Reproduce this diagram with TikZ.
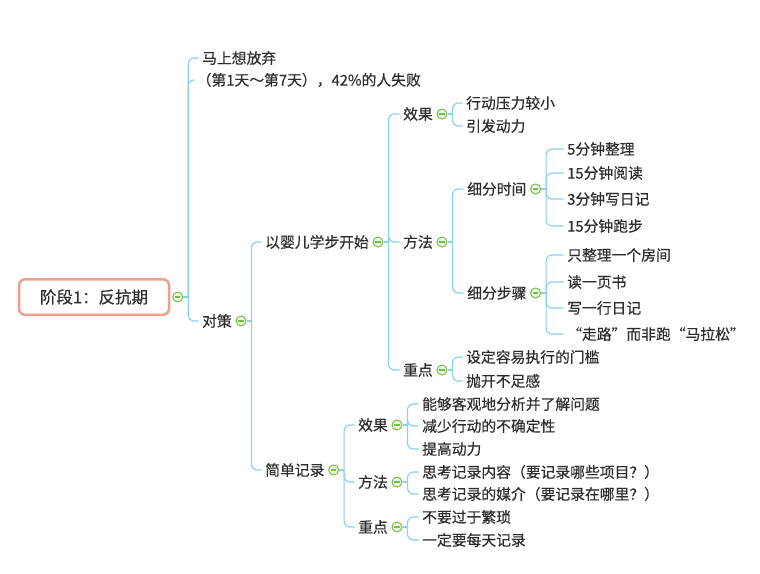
\documentclass[tikz,border=0pt]{standalone}
\usepackage{fontspec}
\setmainfont{Noto Sans CJK SC}[FakeBold=0.4]
\usetikzlibrary{positioning}

\definecolor{linkblue}{RGB}{138,208,245}
\definecolor{foldgreen}{RGB}{118,190,72}
\definecolor{foldfill}{RGB}{236,246,226}
\definecolor{rootedge}{RGB}{240,160,138}
\definecolor{txtgray}{RGB}{45,45,45}

% full-width quotes
\newcommand{\qopen}{\makebox[1em][r]{“}}
\newcommand{\qclose}{\makebox[1em][l]{”}}

\tikzset{
  topic/.style={anchor=west, inner xsep=3.5pt, inner ysep=2pt, text=txtgray,
    font=\fontsize{14.8}{17}\selectfont},
  root/.style={draw=rootedge, line width=2.5pt, rounded corners=6pt, fill=white,
    minimum width=150pt, minimum height=35.5pt, text=txtgray,
    font=\fontsize{16.5}{19}\selectfont},
  fold/.style={circle, draw=foldgreen, fill=foldfill, line width=1pt,
    minimum size=10pt, inner sep=0pt,
    path picture={\draw[foldgreen, line width=1.1pt]
      ([xshift=-2.6pt]path picture bounding box.center) --
      ([xshift=2.6pt]path picture bounding box.center);}},
  link/.style={draw=linkblue, line width=1.2pt, rounded corners=6pt},
}

\begin{document}
\begin{tikzpicture}[x=1pt, y=-1pt]
  \useasboundingbox (0,0) rectangle (760,573);

  % Root
  \node[root] (r0) at (94,297) {阶段1：反抗期};
  \node[fold, right=2pt of r0] (r0f) {};

  % First level
  \node[topic] (mssf) at (198.5,58) {马上想放弃};
  \node[topic] (d1d7) at (193,80) {（第1天～第7天），42\%的人失败};
  \node[topic] (dc) at (198.5,321) {对策};
  \node[fold, right=0pt of dc] (dcf) {};

  % Countermeasures
  \node[topic] (ymxb) at (261.5,242) {以婴儿学步开始};
  \node[fold, right=0pt of ymxb] (ymxbf) {};
  \node[topic] (jdjl) at (261.5,470) {简单记录};
  \node[fold, right=0pt of jdjl] (jdjlf) {};

  % Baby steps
  \node[topic] (xga) at (399.5,114) {效果};
  \node[fold, right=0pt of xga] (xgaf) {};
  \node[topic] (ffa) at (399.5,242) {方法};
  \node[fold, right=0pt of ffa] (ffaf) {};
  \node[topic] (zda) at (399.5,370) {重点};
  \node[fold, right=0pt of zda] (zdaf) {};

  \node[topic] (xga1) at (462.5,103) {行动压力较小};
  \node[topic] (xga2) at (462.5,126) {引发动力};

  \node[topic] (sj) at (463.5,189) {细分时间};
  \node[fold, right=0pt of sj] (sjf) {};
  \node[topic] (bz) at (463.5,293) {细分步骤};
  \node[fold, right=0pt of bz] (bzf) {};

  \node[topic] (sj1) at (563.5,149) {5分钟整理};
  \node[topic] (sj2) at (563.5,173) {15分钟阅读};
  \node[topic] (sj3) at (563.5,199) {3分钟写日记};
  \node[topic] (sj4) at (563.5,226) {15分钟跑步};

  \node[topic] (bz1) at (563.5,255) {只整理一个房间};
  \node[topic] (bz2) at (563.5,282) {读一页书};
  \node[topic] (bz3) at (563.5,308) {写一行日记};
  \node[topic] (bz4) at (563.5,334) {\qopen 走路\qclose 而非跑\qopen 马拉松\qclose};

  \node[topic] (zda1) at (462.5,357) {设定容易执行的门槛};
  \node[topic] (zda2) at (462.5,381) {抛开不足感};

  % Simple records
  \node[topic] (xgb) at (354.5,425) {效果};
  \node[fold, right=0pt of xgb] (xgbf) {};
  \node[topic] (ffb) at (354.5,482) {方法};
  \node[fold, right=0pt of ffb] (ffbf) {};
  \node[topic] (zdb) at (354.5,527) {重点};
  \node[fold, right=0pt of zdb] (zdbf) {};

  \node[topic] (xgb1) at (418.5,404) {能够客观地分析并了解问题};
  \node[topic] (xgb2) at (418.5,426) {减少行动的不确定性};
  \node[topic] (xgb3) at (418.5,449) {提高动力};
  \node[topic] (ffb1) at (418.5,472) {思考记录内容（要记录哪些项目？）};
  \node[topic] (ffb2) at (418.5,494) {思考记录的媒介（要记录在哪里？）};
  \node[topic] (zdb1) at (418.5,517) {不要过于繁琐};
  \node[topic] (zdb2) at (418.5,540) {一定要每天记录};

  % Branch connectors
  \foreach \p/\cs in {r0f/{mssf,d1d7,dc}, dcf/{ymxb,jdjl},
      ymxbf/{xga,ffa,zda}, xgaf/{xga1,xga2}, ffaf/{sj,bz},
      sjf/{sj1,sj2,sj3,sj4}, bzf/{bz1,bz2,bz3,bz4}, zdaf/{zda1,zda2},
      jdjlf/{xgb,ffb,zdb}, xgbf/{xgb1,xgb2,xgb3}, ffbf/{ffb1,ffb2},
      zdbf/{zdb1,zdb2}} {
    \coordinate (\p-bar) at ([xshift=5pt]\p.east);
    \draw[link] (\p.east) -- (\p-bar);
    \foreach \c in \cs
      \draw[link] (\p-bar) |- (\c.west);
  }
\end{tikzpicture}
\end{document}
